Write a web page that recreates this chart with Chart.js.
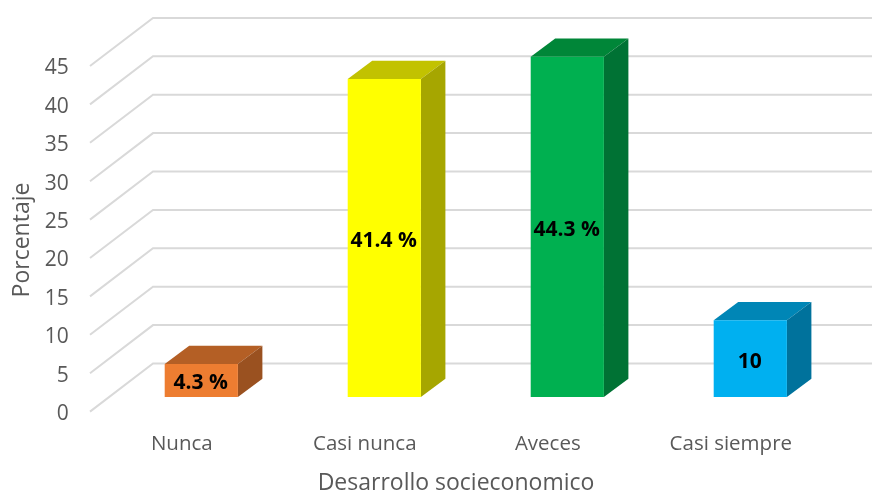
<!DOCTYPE html>
<html>
<head>
<meta charset="utf-8">
<title>Desarrollo socieconomico</title>
<script src="https://cdn.jsdelivr.net/npm/chart.js@4"></script>
<style>
    html, body { margin: 0; padding: 0; background: #fff; }
    canvas { display: block; }
</style>
</head>
<body>
<canvas id="plot" width="872" height="492"></canvas>
<script>
const categories = ['Nunca', 'Casi nunca', 'Aveces', 'Casi siempre']
const percentages = [4.3, 41.4, 44.3, 10]
const valueLabels = ['4.3 %', '41.4 %', '44.3 %', '10']

const frontColors = ['#ED7D31', '#FFFF00', '#00B050', '#00B0F0']
const topColors = ['#B45F25', '#C2C200', '#008638', '#0086B6']
const sideColors = ['#9A5120', '#A6A600', '#007234', '#00729C']

const textGrey = '#595959'
const gridGrey = '#D9D9D9'
const baseFont = '"Open Sans", sans-serif'

// label overhang must not push the plot area around
const noPadding = scale => {
    scale.paddingTop = 0
    scale.paddingBottom = 0
    scale.paddingLeft = 0
    scale.paddingRight = 0
}

/* Excel style 3D: walls, bar sides and labels are drawn around the library's bars */
const bars3d = {
    id: 'bars3d',
    beforeDatasetsDraw(chart) {
        const { ctx, scales: { y } } = chart
        ctx.save()

        // floor + side wall + back wall gridlines
        ctx.strokeStyle = gridGrey
        ctx.lineWidth = 2
        y.ticks.forEach(tick => {
            const py = y.getPixelForValue(tick.value)
            ctx.beginPath()
            ctx.moveTo(90, py + 14.6)
            ctx.lineTo(153, py - 33.5)
            ctx.lineTo(872, py - 33.5)
            ctx.stroke()
        })

        // top and side of each bar
        const dx = 24.5
        const dy = 18.3
        chart.getDatasetMeta(0).data.forEach((bar, i) => {
            const left = bar.x - bar.width / 2
            const right = bar.x + bar.width / 2
            ctx.fillStyle = topColors[i]
            ctx.beginPath()
            ctx.moveTo(left, bar.y)
            ctx.lineTo(left + dx, bar.y - dy)
            ctx.lineTo(right + dx, bar.y - dy)
            ctx.lineTo(right, bar.y)
            ctx.closePath()
            ctx.fill()

            ctx.fillStyle = sideColors[i]
            ctx.beginPath()
            ctx.moveTo(right, bar.y)
            ctx.lineTo(right + dx, bar.y - dy)
            ctx.lineTo(right + dx, bar.base - dy)
            ctx.lineTo(right, bar.base)
            ctx.closePath()
            ctx.fill()
        })
        ctx.restore()
    },
    afterDatasetsDraw(chart) {
        const { ctx } = chart
        ctx.save()
        ctx.textAlign = 'center'
        ctx.textBaseline = 'middle'

        ctx.fillStyle = '#000'
        ctx.font = 'bold 21px ' + baseFont
        chart.getDatasetMeta(0).data.forEach((bar, i) => {
            ctx.fillText(valueLabels[i], bar.x - 0.5, (bar.y + bar.base) / 2 + 3)
        })

        // axis titles sit off the plot centre in the original, so not using scale.title
        ctx.fillStyle = textGrey
        ctx.font = '23px ' + baseFont
        ctx.fillText('Desarrollo socieconomico', 456, 483)
        ctx.translate(22, 240)
        ctx.rotate(-Math.PI / 2)
        ctx.fillText('Porcentaje', 0, 0)
        ctx.restore()
    }
}

new Chart(document.getElementById('plot'), {
    type: 'bar',
    data: {
        labels: categories,
        datasets: [{
            label: 'Porcentaje',
            data: percentages,
            backgroundColor: frontColors,
            borderWidth: 0,
            barPercentage: 0.4,
            categoryPercentage: 1
        }]
    },
    options: {
        responsive: false,
        animation: false,
        layout: { padding: { top: 51.4, right: 30.2 } },
        plugins: {
            legend: { display: false },
            tooltip: { enabled: false },
            title: { display: false }
        },
        scales: {
            x: {
                grid: { display: false, drawTicks: false },
                border: { display: false },
                ticks: {
                    color: textGrey,
                    font: { family: baseFont, size: 20.5 },
                    labelOffset: -19.5,
                    padding: 35,
                    maxRotation: 0
                },
                afterFit(scale) {
                    scale.height = 95
                    noPadding(scale)
                }
            },
            y: {
                min: 0,
                max: 45,
                grid: { display: false, drawTicks: false },
                border: { display: false },
                ticks: {
                    stepSize: 5,
                    color: textGrey,
                    font: { family: baseFont, size: 21 },
                    labelOffset: 17,
                    padding: 41
                },
                afterFit(scale) {
                    scale.width = 109.8
                    noPadding(scale)
                }
            }
        }
    },
    plugins: [bars3d]
})
</script>
</body>
</html>
